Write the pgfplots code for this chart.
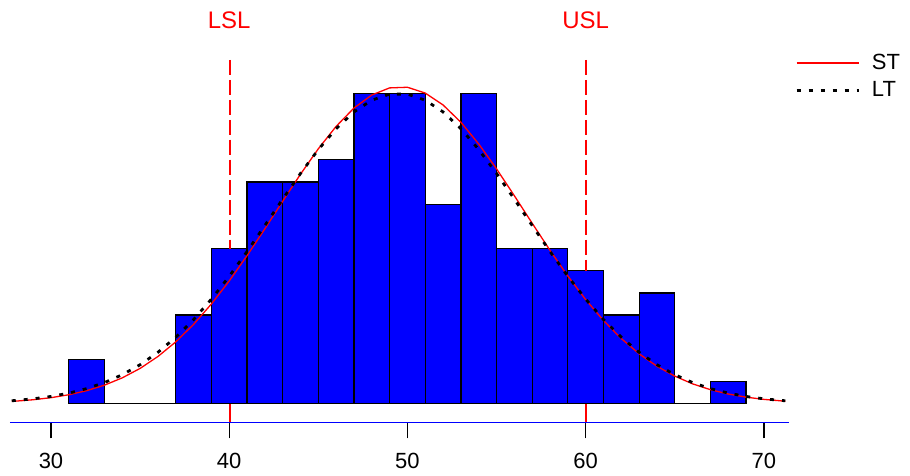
\documentclass[border=0pt]{standalone}
\usepackage{pgfplots}
\pgfplotsset{compat=1.18}
\usepackage{fontspec}
\setmainfont{Liberation Sans}
\definecolor{speccol}{RGB}{255,0,0}

\begin{document}
\begin{tikzpicture}
\begin{axis}[
  scale only axis, width=390pt, height=181.5pt,
  xmin=27.7, xmax=71.4, ymin=-0.84, ymax=15.51,
  axis x line*=bottom, axis y line=none,
  x axis line style={blue, line width=0.5pt, -},
  xtick={30,40,50,60,70},
  xtick style={black, line width=0.6pt},
  tick align=outside, major tick length=8pt,
  xticklabel style={font=\fontsize{11}{13}\selectfont, yshift=-4pt},
  /pgf/number format/assume math mode=true,
  clip=false, unbounded coords=jump,
  legend style={at={(1.0,1.04)}, anchor=north west, draw=none,
    font=\fontsize{11}{13}\selectfont, row sep=0.5pt, cells={anchor=west}},
  legend image code/.code={\draw[#1] (0pt,0pt) -- (31pt,0pt); \path (35pt,0pt);},
]
% histogram
\addplot[ybar interval, fill=blue, draw=black, line width=0.6pt, forget plot]
  coordinates {(31,2) (33,0) (35,0) (37,4) (39,7) (41,10) (43,10) (45,11)
    (47,14) (49,14) (51,9) (53,14) (55,7) (57,7) (59,6) (61,4) (63,5)
    (65,0) (67,1) (69,1)};
% spec limits: dashes above the bars, short piece below them
\addplot[draw=speccol, color=speccol, line width=0.9pt, forget plot] coordinates {
  (40.03,15.51) (40.03,14.83) (40.03,nan) (40.03,14.61) (40.03,13.93) (40.03,nan)
  (40.03,13.71) (40.03,13.03) (40.03,nan) (40.03,12.81) (40.03,12.13) (40.03,nan)
  (40.03,11.91) (40.03,11.23) (40.03,nan) (40.03,11.01) (40.03,10.33) (40.03,nan)
  (40.03,10.10) (40.03,9.43) (40.03,nan) (40.03,9.20) (40.03,8.53) (40.03,nan)
  (40.03,8.30) (40.03,7.63) (40.03,nan) (40.03,7.40) (40.03,7.00) (40.03,nan)
  (40.03,0) (40.03,-0.84) (40.03,nan)
  (60.03,15.51) (60.03,14.83) (60.03,nan) (60.03,14.61) (60.03,13.93) (60.03,nan)
  (60.03,13.71) (60.03,13.03) (60.03,nan) (60.03,12.81) (60.03,12.13) (60.03,nan)
  (60.03,11.91) (60.03,11.23) (60.03,nan) (60.03,11.01) (60.03,10.33) (60.03,nan)
  (60.03,10.10) (60.03,9.43) (60.03,nan) (60.03,9.20) (60.03,8.53) (60.03,nan)
  (60.03,8.30) (60.03,7.63) (60.03,nan) (60.03,7.40) (60.03,6.73) (60.03,nan)
  (60.03,6.50) (60.03,6.00) (60.03,nan)
  (60.03,0) (60.03,-0.84)};
% ST
\addplot[red, line width=0.65pt] coordinates {
  (27.8,0.108) (28,0.117) (29,0.181) (30,0.274) (31,0.406) (32,0.590) (33,0.839)
  (34,1.168) (35,1.594) (36,2.131) (37,2.790) (38,3.579) (39,4.499)
  (40,5.538) (41,6.680) (42,7.891) (43,9.133) (44,10.355) (45,11.501)
  (46,12.514) (47,13.339) (48,13.928) (49,14.247) (50,14.276) (51,14.014)
  (52,13.476) (53,12.696) (54,11.716) (55,10.594) (56,9.381) (57,8.139)
  (58,6.918) (59,5.760) (60,4.698) (61,3.754) (62,2.939) (63,2.253)
  (64,1.692) (65,1.246) (66,0.897) (67,0.634) (68,0.439) (69,0.297)
  (70,0.197) (71,0.128) (71.2,0.117)};
% LT
\addplot[black, line width=1.4pt, dash pattern=on 2pt off 4pt] coordinates {
  (27.8,0.135) (28,0.147) (29,0.222) (30,0.329) (31,0.479) (32,0.683) (33,0.955)
  (34,1.309) (35,1.760) (36,2.320) (37,2.999) (38,3.798) (39,4.719)
  (40,5.748) (41,6.866) (42,8.039) (43,9.229) (44,10.388) (45,11.466)
  (46,12.407) (47,13.163) (48,13.693) (49,13.966) (50,13.966) (51,13.693)
  (52,13.163) (53,12.407) (54,11.466) (55,10.388) (56,9.229) (57,8.039)
  (58,6.866) (59,5.748) (60,4.719) (61,3.798) (62,2.999) (63,2.320)
  (64,1.760) (65,1.309) (66,0.955) (67,0.683) (68,0.479) (69,0.329)
  (70,0.222) (71,0.147) (71.2,0.135)};
\legend{ST, LT}
\node[red, font=\fontsize{12}{14}\selectfont] at (axis cs:40,17.31) {LSL};
\node[red, font=\fontsize{12}{14}\selectfont] at (axis cs:60,17.31) {USL};
\end{axis}
\path ([shift={(-5pt,-26pt)}]current axis.south west)
  rectangle ([shift={(60pt,30pt)}]current axis.north east);
\end{tikzpicture}
\end{document}
